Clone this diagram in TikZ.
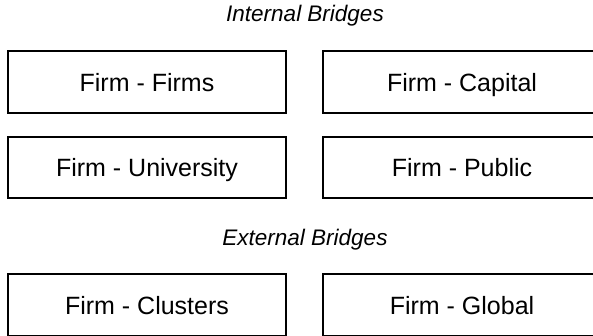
\documentclass[tikz,border=0pt]{standalone}
\usepackage{fontspec}
\setmainfont{Liberation Sans}
\begin{document}
\begin{tikzpicture}[x=1pt,y=-1pt,
  bridge/.style={draw=black,line width=1.9pt,minimum width=278pt,minimum height=62pt,
    inner sep=0pt,text height=18pt,text depth=0pt,font=\fontsize{25}{29}\selectfont},
  heading/.style={inner sep=0pt,text height=16pt,text depth=0pt,
    font=\fontsize{22.5}{26}\selectfont\itshape}]
  \useasboundingbox (0,0) rectangle (593,335);
  \clip (0,0) rectangle (593,335);
  % internal bridges
  \node[heading] (inth) at (305,13.7) {Internal Bridges};
  \node[bridge] (ff) at (147,82) {Firm - Firms};
  \node[bridge] (fc) at (462,82) {Firm - Capital};
  \node[bridge,minimum height=61pt] (fu) at (147,167.5) {Firm - University};
  \node[bridge,minimum height=61pt] (fp) at (462,167.5) {Firm - Public};
  % external bridges
  \node[heading] (exth) at (305,237.2) {External Bridges};
  \node[bridge,minimum height=62pt] (fcl) at (147,305) {Firm - Clusters};
  \node[bridge,minimum height=62pt] (fg) at (462,305) {Firm - Global};
\end{tikzpicture}
\end{document}
